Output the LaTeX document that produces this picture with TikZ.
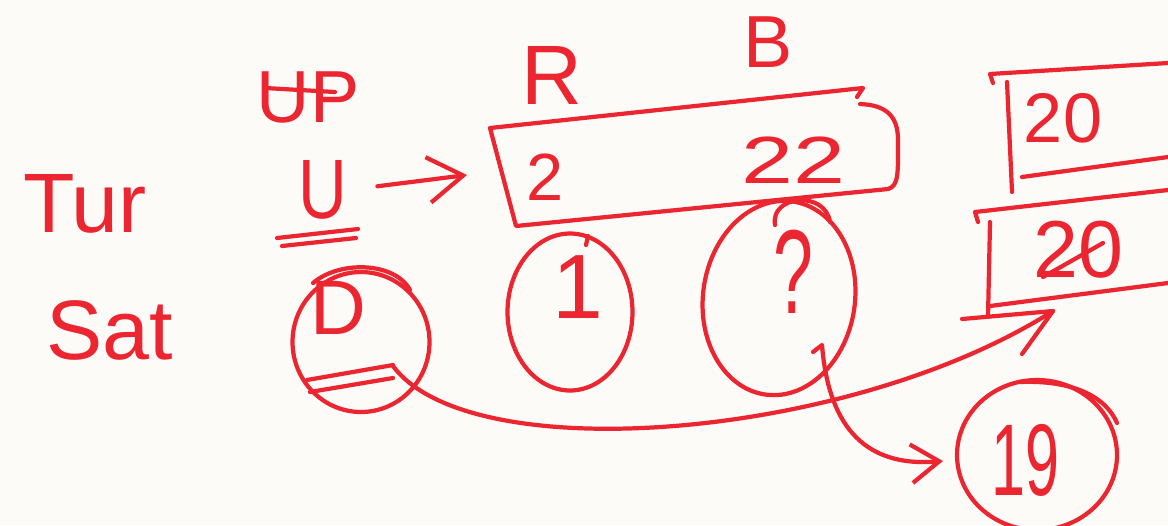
\documentclass[tikz,border=0pt]{standalone}
\usepackage{fontspec}
\setmainfont{Liberation Sans}
\usetikzlibrary{arrows.meta,shapes.geometric}
\definecolor{hred}{RGB}{236,38,48}
\definecolor{bgc}{RGB}{252,251,248}
\newcommand\hfs[1]{\fontsize{#1}{#1}\selectfont}
\begin{document}
\begin{tikzpicture}[x=0.02cm,y=-0.02cm,
  hand/.style={draw=hred,line width=2.4pt,line cap=round,line join=round},
  txt/.style={text=hred,inner sep=0pt},
  ring/.style={hand,ellipse,inner sep=0pt},
  headA/.style={-{Straight Barb[length=20pt,width=26pt,line width=2.4pt]}},
  headB/.style={-{Straight Barb[length=16pt,width=22pt,line width=2.4pt]}}
]
\fill[bgc] (0,0) rectangle (1168,525);
\useasboundingbox (0,0) rectangle (1168,525);

% left labels
\node[txt,font=\hfs{48}] (tur) at (85,204) {Tur};
\node[txt,font=\hfs{48}] (sat) at (110,330) {Sat};
\node[txt,font=\hfs{42}] (up) at (308,97) {UP};
\draw[hand] (265,88) -- (335,92);
\node[txt,font=\hfs{48},xscale=0.8] (u) at (323,190) {U};
\draw[hand] (277,238) -- (358,229);
\draw[hand] (282,246) -- (356,238);
\coordinate (boxin) at (467,175);
\draw[hand,headA,shorten <=0.6cm] (u.east) -- (boxin);

% R B box
\node[txt,font=\hfs{48}] (rl) at (552,75) {R};
\node[txt,font=\hfs{42}] (bl) at (768,42) {B};
\draw[hand] (857,97) -- (863,88) -- (490,128) -- (516,226) -- (888,189)
  .. controls (899,186) and (898,172) .. (898,140)
  .. controls (898,115) and (885,105) .. (860,104);
\node[txt,font=\hfs{38}] (r2) at (545,177) {2};
\node[txt,font=\hfs{38},xscale=1.4] (b22) at (793,160) {22};

% circles
\node[ring,minimum width=2.5cm,minimum height=3.14cm] (c1) at (570,312) {};
\draw[hand] (586,245) -- (588,236);
\node[txt,font=\hfs{52}] (one) at (578,287) {1};
\node[ring,minimum width=3.04cm,minimum height=3.9cm,rotate=-8] (c2) at (779,298) {};
\draw[hand] (775,225) .. controls (770,195) and (825,190) .. (830,222);
\node[txt,font=\hfs{68},xscale=0.6] (q) at (793,272) {?};
\node[ring,minimum width=2.74cm,minimum height=2.8cm] (c3) at (361,342) {};
\draw[hand] (313,283) .. controls (340,260) and (395,262) .. (410,290);
\node[txt,font=\hfs{44}] (d) at (338,308) {D};
\draw[hand] (307,380) -- (393,365);
\draw[hand] (310,392) -- (393,378);
\coordinate (eqend) at (393,366);

% top right boxes
\draw[hand] (993,83) -- (990,74) -- (1168,63);
\draw[hand] (1007,82) -- (1012,192);
\draw[hand] (1022,177) -- (1168,157);
\node[txt,font=\hfs{40}] (t20a) at (1063,118) {20};
\draw[hand] (978,222) -- (975,212) -- (1168,190);
\draw[hand] (990,222) -- (988,317);
\draw[hand] (990,306) -- (1168,283);
\node[txt,font=\hfs{46}] (t20b) at (1078,250) {20};
\draw[hand] (1043,277) -- (1103,243);

% 19 circle
\node[ring,minimum width=3.2cm,minimum height=3cm] (c19) at (1037,455) {};
\draw[hand] (1020,382) .. controls (1070,380) and (1105,395) .. (1117,423);
\node[txt,font=\hfs{58},xscale=0.6] (n19) at (1025,460) {19};

% arrows
\coordinate (tip1) at (1053,311);
\draw[hand] (eqend) .. controls (470,470) and (850,440) .. (tip1);
\draw[hand] (962,319) -- (tip1) -- (1022,354);
\coordinate (q0) at (813,352);
\coordinate (tip2) at (943,461);
\draw[hand,headB] (q0) -- (822,345) .. controls (828,420) and (860,468) .. (tip2);
\end{tikzpicture}
\end{document}
